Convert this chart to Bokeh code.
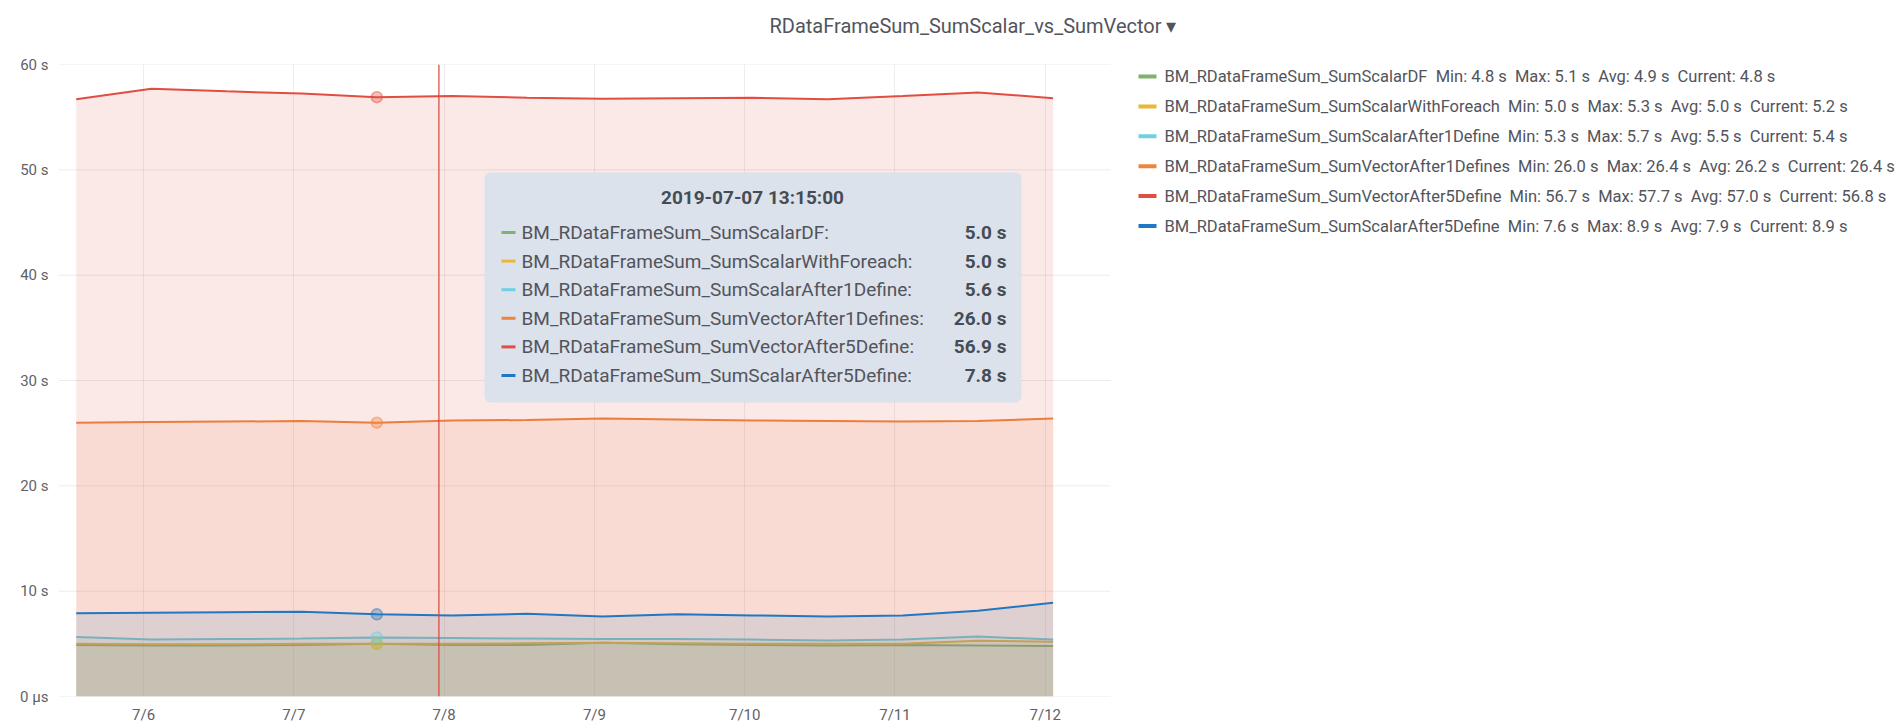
import pandas as pd
from bokeh.plotting import figure
from bokeh.models import (Range1d, FixedTicker, CustomJSTickFormatter, Label,
                          BoxAnnotation, Span, ColumnDataSource, Title)
from bokeh.embed import file_html
from bokeh.resources import INLINE

# ---------------- data ----------------
times = ["2019-07-05 13:15", "2019-07-06 01:15", "2019-07-06 13:15", "2019-07-07 01:15",
         "2019-07-07 13:15", "2019-07-08 01:15", "2019-07-08 13:15", "2019-07-09 01:15",
         "2019-07-09 13:15", "2019-07-10 01:15", "2019-07-10 13:15", "2019-07-11 01:15",
         "2019-07-11 13:15", "2019-07-12 01:15"]

sum_scalar_df = [4.9, 4.85, 4.85, 4.9, 5.0, 4.9, 4.9, 5.1, 4.95, 4.9, 4.85, 4.9, 4.85, 4.8]
sum_scalar_foreach = [5.0, 4.95, 4.95, 5.0, 5.0, 5.0, 5.05, 5.1, 5.05, 5.0, 5.0, 5.0, 5.3, 5.2]
sum_scalar_after1 = [5.65, 5.4, 5.45, 5.5, 5.6, 5.55, 5.5, 5.45, 5.45, 5.4, 5.32, 5.4, 5.7, 5.4]
sum_vector_after1 = [26.0, 26.05, 26.1, 26.15, 26.0, 26.2, 26.25, 26.4, 26.3, 26.2, 26.15, 26.1, 26.15, 26.4]
sum_vector_after5 = [56.7, 57.7, 57.45, 57.25, 56.9, 57.0, 56.85, 56.75, 56.8, 56.85, 56.7, 57.0, 57.35, 56.8]
sum_scalar_after5 = [7.9, 7.95, 8.0, 8.05, 7.8, 7.7, 7.85, 7.6, 7.8, 7.7, 7.6, 7.7, 8.15, 8.9]

series_names = ["BM_RDataFrameSum_SumScalarDF",
                "BM_RDataFrameSum_SumScalarWithForeach",
                "BM_RDataFrameSum_SumScalarAfter1Define",
                "BM_RDataFrameSum_SumVectorAfter1Defines",
                "BM_RDataFrameSum_SumVectorAfter5Define",
                "BM_RDataFrameSum_SumScalarAfter5Define"]
series_values = [sum_scalar_df, sum_scalar_foreach, sum_scalar_after1,
                 sum_vector_after1, sum_vector_after5, sum_scalar_after5]
colors = ["#7EB26D", "#EAB839", "#6ED0E0", "#EF843C", "#E24D42", "#1F78C1"]

legend_stats = [["Min: 4.8 s", "Max: 5.1 s", "Avg: 4.9 s", "Current: 4.8 s"],
                ["Min: 5.0 s", "Max: 5.3 s", "Avg: 5.0 s", "Current: 5.2 s"],
                ["Min: 5.3 s", "Max: 5.7 s", "Avg: 5.5 s", "Current: 5.4 s"],
                ["Min: 26.0 s", "Max: 26.4 s", "Avg: 26.2 s", "Current: 26.4 s"],
                ["Min: 56.7 s", "Max: 57.7 s", "Avg: 57.0 s", "Current: 56.8 s"],
                ["Min: 7.6 s", "Max: 8.9 s", "Avg: 7.9 s", "Current: 8.9 s"]]

hover_index = 4
hover_title = "2019-07-07 13:15:00"
tooltip_values = ["5.0 s", "5.0 s", "5.6 s", "26.0 s", "56.9 s", "7.8 s"]
crosshair_time = "2019-07-07 23:10"

day_ticks = ["2019-07-06", "2019-07-07", "2019-07-08", "2019-07-09",
             "2019-07-10", "2019-07-11", "2019-07-12"]
y_ticks = [0, 10, 20, 30, 40, 50, 60]
y_labels = ["0 µs", "10 s", "20 s", "30 s", "40 s", "50 s", "60 s"]

# visible time window of the graph (7 days); the canvas continues to the right
# so that the legend can live inside the drawing area
x_start = "2019-07-05 10:25"
x_end = "2019-07-12 10:25"
panel_title = "RDataFrameSum_SumScalar_vs_SumVector \u25BE"

# ---------------- figure ----------------
W, H = 1899, 727
FRAME_L, FRAME_T, FRAME_B = 58, 64, 696
GRAPH_R = 1110                      # right edge of the graph area (px)
TEXT = "#52545c"

t0, t1 = pd.Timestamp(x_start), pd.Timestamp(x_end)
px_per_ms = (GRAPH_R - FRAME_L) / (t1 - t0).total_seconds() / 1000
x_range_end = t0 + pd.Timedelta(milliseconds=(W - FRAME_L) / px_per_ms)

p = figure(width=W, height=H, x_axis_type="datetime", output_backend="svg",
           toolbar_location=None,
           x_range=Range1d(t0, x_range_end), y_range=Range1d(0, 60),
           min_border_left=FRAME_L, min_border_top=FRAME_T,
           min_border_bottom=H - FRAME_B, min_border_right=0)
p.outline_line_color = None
p.background_fill_color = "white"

# title: a blank second line lifts the text inside the top border
p.title = Title(text=panel_title + "\n ", align="left", offset=769 - FRAME_L,
                text_font="Roboto", text_font_size="20px", text_font_style="normal",
                text_color=TEXT, standoff=6)

# horizontal grid lines limited to the graph area
p.ygrid.grid_line_color = None
p.segment(x0=[t0] * len(y_ticks), y0=y_ticks, x1=[t1] * len(y_ticks), y1=y_ticks,
          line_color="#000000", line_alpha=0.08, line_width=1)

x = pd.to_datetime(times)
for name, vals, col in zip(series_names, series_values, colors):
    src = ColumnDataSource(dict(x=x, y=vals))
    p.varea(x="x", y1=0, y2="y", source=src, fill_color=col, fill_alpha=0.12)
    p.line(x="x", y="y", source=src, line_color=col, line_width=2)

for vals, col in zip(series_values, colors):
    p.scatter([x[hover_index]], [vals[hover_index]], size=11, fill_color=col,
              fill_alpha=0.35, line_color=col, line_alpha=0.5, line_width=1.5)

p.add_layout(Span(location=pd.Timestamp(crosshair_time), dimension="height",
                  line_color="#d9453a", line_width=1.2))

# axes
tick_ms = [pd.Timestamp(d).value // 10**6 for d in day_ticks]
p.xaxis.ticker = FixedTicker(ticks=tick_ms)
p.xaxis.formatter = CustomJSTickFormatter(
    code="const d = new Date(tick); return (d.getUTCMonth()+1) + '/' + d.getUTCDate();")
p.yaxis.ticker = FixedTicker(ticks=y_ticks)
p.yaxis.major_label_overrides = {t: l for t, l in zip(y_ticks, y_labels)}
for ax in (p.xaxis, p.yaxis):
    ax.axis_line_color = None
    ax.major_tick_line_color = None
    ax.minor_tick_line_color = None
    ax.major_tick_out = 0
    ax.major_tick_in = 0
    ax.minor_tick_out = 0
    ax.minor_tick_in = 0
    ax.major_label_text_font = "Roboto"
    ax.major_label_text_font_size = "15px"
    ax.major_label_text_color = "#5f6266"
p.yaxis.major_label_standoff = 10
p.xaxis.major_label_standoff = 9
p.xgrid.grid_line_color = "#000000"
p.xgrid.grid_line_alpha = 0.07

# pixel helpers (frame-relative screen units)
X0, Y0 = FRAME_L, FRAME_B
def sx(X):
    return X - X0
def sy(Y):
    return Y0 - Y

def box(l, r, t, b, **kw):
    return BoxAnnotation(left=sx(l), right=sx(r), top=sy(t), bottom=sy(b),
                         left_units="screen", right_units="screen",
                         top_units="screen", bottom_units="screen", **kw)

SEP = "\u00a0 "   # keeps the wider gap between legend values
# legend
for i, (name, stats, col) in enumerate(zip(series_names, legend_stats, colors)):
    Y = 76 + 29.9 * i
    p.add_layout(box(1138, 1156, Y - 2, Y + 2, fill_color=col, fill_alpha=1, line_color=None))
    p.add_layout(Label(x=sx(1164), y=sy(Y), x_units="screen", y_units="screen",
                       text=name + SEP + SEP.join(stats), text_font="Roboto",
                       text_font_size="16.5px", text_color=TEXT, text_baseline="middle"))

# tooltip
p.add_layout(box(484, 1021, 172, 402, fill_color="#dae1eb", fill_alpha=0.96,
                 line_color=None, border_radius=6))
p.add_layout(Label(x=sx(752), y=sy(197), x_units="screen", y_units="screen",
                   text=hover_title, text_font="Roboto", text_font_size="19px",
                   text_font_style="bold", text_color="#464c54",
                   text_align="center", text_baseline="middle"))
for i, (name, val, col) in enumerate(zip(series_names, tooltip_values, colors)):
    Y = 232 + 28.6 * i
    p.add_layout(box(501, 515, Y - 1.5, Y + 1.5, fill_color=col, fill_alpha=1, line_color=None))
    p.add_layout(Label(x=sx(521), y=sy(Y), x_units="screen", y_units="screen",
                       text=name + ":", text_font="Roboto", text_font_size="19px",
                       text_color=TEXT, text_baseline="middle"))
    p.add_layout(Label(x=sx(1006), y=sy(Y), x_units="screen", y_units="screen",
                       text=val, text_font="Roboto", text_font_size="19px",
                       text_font_style="bold", text_color="#464c54",
                       text_align="right", text_baseline="middle"))

open("out.html", "w").write(file_html(p, INLINE))
